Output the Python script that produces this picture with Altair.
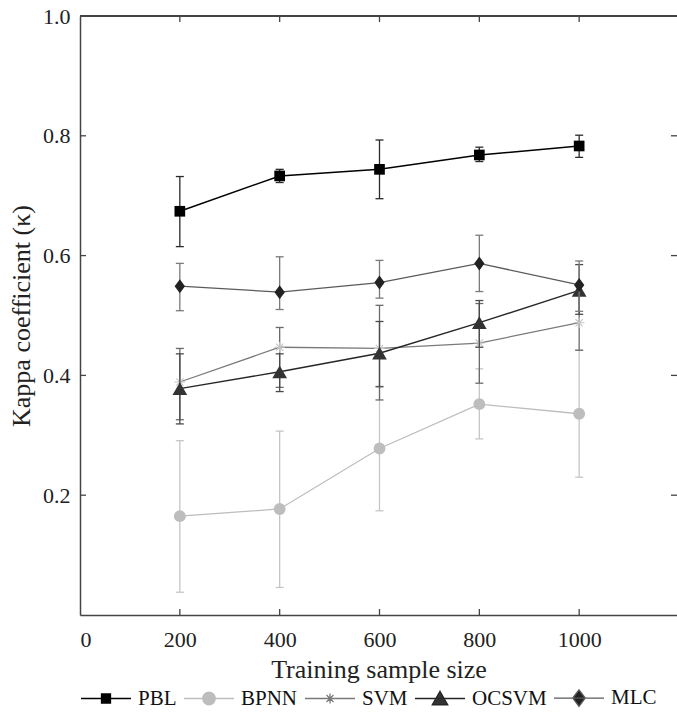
import altair as alt
import pandas as pd

# ---------------- data ----------------
sizes = [200, 400, 600, 800, 1000]
series_names = ["PBL", "BPNN", "SVM", "OCSVM", "MLC"]

pbl_mean = [0.674, 0.733, 0.744, 0.768, 0.783]
pbl_lo = [0.615, 0.722, 0.695, 0.757, 0.764]
pbl_hi = [0.732, 0.744, 0.793, 0.781, 0.801]

bpnn_mean = [0.165, 0.177, 0.278, 0.352, 0.336]
bpnn_lo = [0.038, 0.046, 0.174, 0.294, 0.230]
bpnn_hi = [0.291, 0.307, 0.382, 0.411, 0.442]

svm_mean = [0.389, 0.447, 0.445, 0.454, 0.488]
svm_lo = [0.326, 0.380, 0.359, 0.387, 0.442]
svm_hi = [0.445, 0.480, 0.517, 0.520, 0.534]

ocsvm_mean = [0.378, 0.406, 0.437, 0.488, 0.542]
ocsvm_lo = [0.319, 0.373, 0.381, 0.447, 0.502]
ocsvm_hi = [0.436, 0.436, 0.490, 0.525, 0.585]

mlc_mean = [0.549, 0.539, 0.555, 0.587, 0.551]
mlc_lo = [0.508, 0.510, 0.529, 0.540, 0.507]
mlc_hi = [0.587, 0.598, 0.592, 0.634, 0.591]

x_tick_values = [0, 200, 400, 600, 800, 1000]
x_inner_ticks = [200, 400, 600, 800, 1000]
y_tick_values = [0.2, 0.4, 0.6, 0.8, 1.0]
y_inner_ticks = [0.2, 0.4, 0.6, 0.8]

x_title = "Training sample size"
y_title = "Kappa coefficient (κ)"

# ---------------- tables ----------------
rows = []
for name, m, lo, hi in [
    ("PBL", pbl_mean, pbl_lo, pbl_hi),
    ("BPNN", bpnn_mean, bpnn_lo, bpnn_hi),
    ("SVM", svm_mean, svm_lo, svm_hi),
    ("OCSVM", ocsvm_mean, ocsvm_lo, ocsvm_hi),
    ("MLC", mlc_mean, mlc_lo, mlc_hi),
]:
    for s, a, b, c in zip(sizes, m, lo, hi):
        rows.append({"series": name, "size": s, "mean": a, "lo": b, "hi": c})
df = pd.DataFrame(rows)
legend_df = pd.DataFrame({"series": series_names})
xt_df = pd.DataFrame({"size": x_inner_ticks})
yt_df = pd.DataFrame({"mean": y_inner_ticks})

W, H = 597, 599
FONT = "Liberation Serif"
AX = "#444444"

XS = alt.Scale(domain=[0, 1196], nice=False, zero=False)
YS = alt.Scale(domain=[0, 1], nice=False, zero=False)

x_axis = alt.Axis(values=x_tick_values, format="d", labelFlush=True, ticks=False, grid=False,
                  labelPadding=14, titlePadding=6,
                  labelFont=FONT, labelFontSize=22, labelColor="#222222",
                  titleFont=FONT, titleFontSize=26, titleFontWeight="normal",
                  titleColor="#222222", domainColor=AX, domainWidth=1.5)
y_axis = alt.Axis(values=y_tick_values, format=".1f", ticks=False, grid=False,
                  labelPadding=10, titlePadding=8,
                  labelFont=FONT, labelFontSize=22, labelColor="#222222",
                  titleFont=FONT, titleFontSize=26, titleFontWeight="normal",
                  titleColor="#222222", domainColor=AX, domainWidth=1.5)

X = alt.X("size:Q", scale=XS, axis=x_axis, title=x_title)


def Yf(field):
    return alt.Y(field, scale=YS, axis=y_axis, title=y_title)


# marker paths
diamond = "M0,-1L0.74,0L0,1L-0.74,0Z"
asterisk = "M-1,0H1M0,-1V1M-0.7,-0.7L0.7,0.7M-0.7,0.7L0.7,-0.7"


def series_layers(name, line_color, lw, err_color, shape, msize, mfill, filled=True):
    base = alt.Chart(df).transform_filter(alt.datum.series == name)
    err = base.mark_rule(color=err_color, strokeWidth=1.3).encode(
        x=X, y=Yf("lo:Q"), y2="hi:Q")
    cap_lo = base.mark_tick(orient="horizontal", size=8, thickness=1.3,
                            color=err_color, opacity=1).encode(x=X, y=Yf("lo:Q"))
    cap_hi = base.mark_tick(orient="horizontal", size=8, thickness=1.3,
                            color=err_color, opacity=1).encode(x=X, y=Yf("hi:Q"))
    line = base.mark_line(color=line_color, strokeWidth=lw).encode(x=X, y=Yf("mean:Q"))
    if filled:
        pts = base.mark_point(shape=shape, size=msize, filled=True, fill=mfill,
                              opacity=1, strokeWidth=0).encode(x=X, y=Yf("mean:Q"))
    else:
        pts = base.mark_point(shape=shape, size=msize, filled=False, stroke=mfill,
                              opacity=1, strokeWidth=1.1).encode(x=X, y=Yf("mean:Q"))
    return [err, cap_lo, cap_hi, line, pts]


layers = []
layers += series_layers("BPNN", "#bdbdbd", 1.3, "#c6c6c6", "circle", 140, "#bdbdbd")
layers += series_layers("SVM", "#7a7a7a", 1.3, "#6a6a6a", asterisk, 110, "#c4c4c4", filled=False)
layers += series_layers("OCSVM", "#262626", 1.4, "#4a4a4a", "triangle-up", 216, "#333333")
layers += series_layers("MLC", "#5a5a5a", 1.3, "#7a7a7a", diamond, 196, "#222222")
layers += series_layers("PBL", "#000000", 1.5, "#2a2a2a", "square", 114, "#000000")

# inward ticks and top frame
bottom_ticks = alt.Chart(xt_df).mark_rule(color=AX, strokeWidth=1.3).encode(
    x=X, y=alt.value(H), y2=alt.value(H - 6))
top_ticks = alt.Chart(xt_df).mark_rule(color=AX, strokeWidth=1.3).encode(
    x=X, y=alt.value(0), y2=alt.value(6))
left_ticks = alt.Chart(yt_df).mark_rule(color=AX, strokeWidth=1.3).encode(
    y=Yf("mean:Q"), x=alt.value(0), x2=alt.value(6))
right_ticks = alt.Chart(yt_df).mark_rule(color=AX, strokeWidth=1.3).encode(
    y=Yf("mean:Q"), x=alt.value(W - 6), x2=alt.value(W))
top_line = alt.Chart(xt_df).mark_rule(color=AX, strokeWidth=1.5).encode(
    x=alt.value(0), x2=alt.value(W), y=alt.value(0))

# legend (line + marker symbols)
leg_paths = [
    "M-1,0H1M-0.18,-0.18H0.18V0.18H-0.18Z",
    "M-1,0H1M-0.25,0A0.25,0.25 0 1,0 0.25,0A0.25,0.25 0 1,0 -0.25,0Z",
    "M-1,0H1M-0.2,0H0.2M0,-0.2V0.2M-0.14,-0.14L0.14,0.14M-0.14,0.14L0.14,-0.14",
    "M-1,0H1M0,-0.29L0.31,0.25L-0.31,0.25Z",
    "M-1,0H1M0,-0.33L0.25,0L0,0.33L-0.25,0Z",
]
leg_stroke = ["#000000", "#bdbdbd", "#7a7a7a", "#262626", "#5a5a5a"]
leg_fill = ["#000000", "#bdbdbd", "#c4c4c4", "#333333", "#222222"]

leg = alt.Legend(title=None, orient="none", direction="horizontal", legendX=0,
                 legendY=656, columns=5, symbolSize=2500, symbolStrokeWidth=1.3,
                 labelFont=FONT, labelFontSize=21, labelColor="#111111",
                 labelOffset=6, columnPadding=4, padding=0)
legend_layer = alt.Chart(legend_df).transform_filter("false").mark_point(
    opacity=1, strokeWidth=1.3).encode(
    shape=alt.Shape("series:N", scale=alt.Scale(domain=series_names, range=leg_paths), legend=leg),
    stroke=alt.Stroke("series:N", scale=alt.Scale(domain=series_names, range=leg_stroke), legend=leg),
    fill=alt.Fill("series:N", scale=alt.Scale(domain=series_names, range=leg_fill), legend=leg),
)

chart = alt.layer(
    *layers, bottom_ticks, top_ticks, left_ticks, right_ticks, top_line, legend_layer
).properties(
    width=W, height=H,
    background="white",
    autosize=alt.AutoSizeParams(type="none"),
    padding={"left": 80, "top": 16, "right": 0, "bottom": 97},
).configure_view(
    strokeWidth=0
)

chart.save("out.html", embed_options={"renderer": "svg", "actions": False})
